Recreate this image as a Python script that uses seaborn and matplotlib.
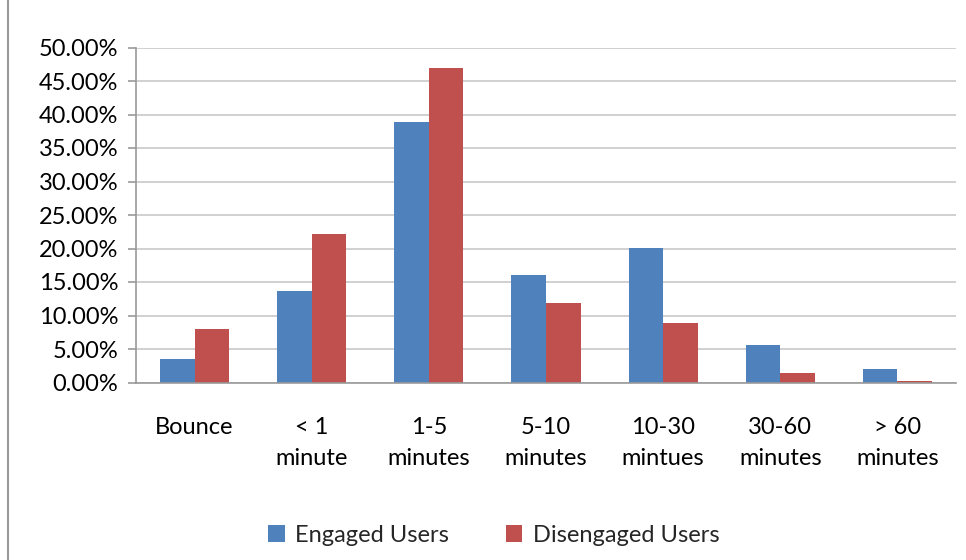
import matplotlib
matplotlib.use("Agg")
import matplotlib.pyplot as plt
import seaborn as sns
import pandas as pd
from matplotlib.patches import Rectangle, Patch
from matplotlib.ticker import FuncFormatter, MultipleLocator

categories = ["Bounce", "< 1\nminute", "1-5\nminutes", "5-10\nminutes",
              "10-30\nmintues", "30-60\nminutes", "> 60\nminutes"]
engaged = [3.5, 13.6, 38.9, 16.0, 20.1, 5.6, 2.0]
disengaged = [8.0, 22.1, 46.9, 11.9, 8.9, 1.45, 0.25]
series_names = ["Engaged Users", "Disengaged Users"]
colors = ["#4F81BD", "#C0504D"]

df = pd.DataFrame({
    "category": categories * 2,
    "value": engaged + disengaged,
    "series": [series_names[0]] * len(categories) + [series_names[1]] * len(categories),
})

sns.set_style("white")
plt.rcParams["font.family"] = ["Lato", "DejaVu Sans"]
FS = 17

fig = plt.figure(figsize=(9.66, 5.6), dpi=100)
ax = fig.add_axes([136 / 966, 1 - 382.5 / 560, (956 - 136) / 966, (382.5 - 47.5) / 560])

sns.barplot(data=df, x="category", y="value", hue="series", order=categories,
            hue_order=series_names, palette=colors, width=0.59, gap=0,
            saturation=1, ax=ax, legend=False, linewidth=0)

ax.set_ylim(0, 50)
ax.set_xlim(-0.5, len(categories) - 0.5)
ax.yaxis.set_major_locator(MultipleLocator(5))
ax.yaxis.set_major_formatter(FuncFormatter(lambda v, p: f"{v:.2f}%"))
ax.grid(axis="y", color="#c8c8c8", linewidth=1.2)
ax.set_axisbelow(True)

for s in ["top", "right"]:
    ax.spines[s].set_visible(False)
for s in ["left", "bottom"]:
    ax.spines[s].set_color("#999999")
    ax.spines[s].set_linewidth(1.2)

ax.set_xlabel("")
ax.set_ylabel("")
ax.set_xticks(range(len(categories)))
ax.set_xticklabels(categories, fontsize=FS, linespacing=1.6)
ax.tick_params(axis="x", which="major", length=0, pad=25, labelcolor="black")
ax.set_xticks([i - 0.5 for i in range(len(categories) + 1)], minor=True)
ax.tick_params(axis="x", which="minor", length=5.8, width=1.2, color="#999999")
ax.tick_params(axis="y", length=5.8, width=1.2, color="#999999", pad=7, labelsize=FS, labelcolor="black")
ax.tick_params(axis="y", left=True)

handles = [Patch(facecolor=c, edgecolor="none") for c in colors]
fig.legend(handles, series_names, loc="center", bbox_to_anchor=(494 / 966, 1 - 535 / 560),
           ncol=2, frameon=False, fontsize=FS, handlelength=0.7, handleheight=0.7,
           handletextpad=0.45, columnspacing=2.4)

fig.patches.append(Rectangle((8 / 966, -0.2), 1.2, 1.2 + (1 - 6 / 560), transform=fig.transFigure,
                             fill=False, edgecolor="#999999", linewidth=1.5, zorder=10))

fig.savefig("out.png", dpi=100)
